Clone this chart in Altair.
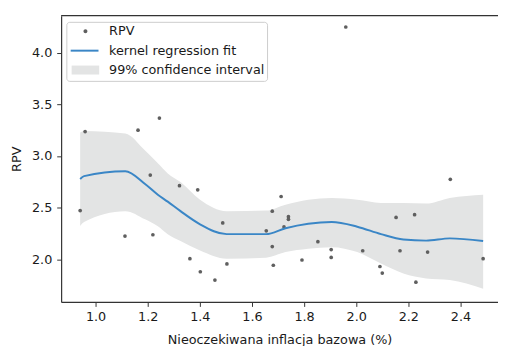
import altair as alt
import pandas as pd

# ---- data ----
rpv_x = [0.941, 0.960, 1.113, 1.163, 1.245, 1.210, 1.220, 1.322, 1.362, 1.392,
         1.402, 1.458, 1.488, 1.504, 1.655, 1.678, 1.678, 1.682, 1.712, 1.723,
         1.740, 1.740, 1.792, 1.853, 1.904, 1.904, 1.960, 2.025, 2.091, 2.100,
         2.153, 2.168, 2.224, 2.229, 2.274, 2.361, 2.487]
rpv_y = [2.472, 3.236, 2.225, 3.249, 3.366, 2.815, 2.238, 2.713, 2.007, 2.672,
         1.880, 1.800, 2.352, 1.956, 2.276, 2.466, 2.124, 1.943, 2.608, 2.314,
         2.413, 2.387, 1.994, 2.171, 2.095, 2.019, 4.247, 2.083, 1.931, 1.867,
         2.406, 2.083, 2.432, 1.779, 2.070, 2.774, 2.007]

fit_x = [0.941, 0.956, 1.114, 1.190, 1.239, 1.277, 1.326, 1.401, 1.503, 1.654,
         1.729, 1.816, 1.906, 2.004, 2.095, 2.181, 2.268, 2.359, 2.487]
fit_y = [2.777, 2.805, 2.853, 2.729, 2.625, 2.558, 2.466, 2.339, 2.244, 2.244,
         2.301, 2.344, 2.361, 2.316, 2.244, 2.192, 2.181, 2.203, 2.178]
ci_high = [3.226, 3.242, 3.217, 3.052, 2.929, 2.831, 2.748, 2.577, 2.466, 2.472,
           2.529, 2.577, 2.593, 2.577, 2.546, 2.544, 2.539, 2.593, 2.625]
ci_low = [2.323, 2.361, 2.466, 2.387, 2.320, 2.244, 2.178, 2.086, 2.007, 2.016,
          2.070, 2.102, 2.118, 2.070, 1.959, 1.864, 1.816, 1.800, 1.715]

x_ticks = [1.0, 1.2, 1.4, 1.6, 1.8, 2.0, 2.2, 2.4]
y_ticks = [2.0, 2.5, 3.0, 3.5, 4.0]
series_names = ["RPV", "kernel regression fit", "99% confidence interval"]
series_colors = ["#5f5f5f", "#3a86c6", "#e3e4e4"]

x_title = "Nieoczekiwana inflacja bazowa (%)"
y_title = "RPV"

# ---- layout / style ----
W, H = 444, 291
FONT = "DejaVu Sans"
TXT = "#1a1a1a"

pts = pd.DataFrame({"x": rpv_x, "y": rpv_y})
fit = pd.DataFrame({"x": fit_x, "y": fit_y, "lo": ci_low, "hi": ci_high})
key_df = pd.DataFrame({"series": series_names})

xs = alt.Scale(domain=[0.868, 2.544], nice=False, zero=False)
ys = alt.Scale(domain=[1.588, 4.357], nice=False, zero=False)

x_axis = alt.Axis(values=x_ticks, format=".1f", grid=False)
y_axis = alt.Axis(values=y_ticks, format=".1f", grid=False)

band = alt.Chart(fit).mark_area(
    color=series_colors[2], opacity=1, interpolate="monotone").encode(
    x=alt.X("x:Q", scale=xs, title=x_title, axis=x_axis),
    y=alt.Y("lo:Q", scale=ys, title=y_title, axis=y_axis),
    y2="hi:Q")

points = alt.Chart(pts).mark_circle(
    size=14, opacity=1, color=series_colors[0]).encode(
    x=alt.X("x:Q", scale=xs), y=alt.Y("y:Q", scale=ys))

line = alt.Chart(fit).mark_line(
    strokeWidth=2, color=series_colors[1], interpolate="monotone").encode(
    x=alt.X("x:Q", scale=xs), y=alt.Y("y:Q", scale=ys))

# legend carrier: draws nothing, only provides the merged legend
# (extra move-to points give every entry the same vertical extent)
leg_shapes = [
    "M1.2,0A0.31,0.31,0,1,1,1.82,0A0.31,0.31,0,1,1,1.2,0ZM1.5,-0.7M1.5,0.7",
    "M-0.8,0L3.55,0M1.4,-0.7M1.4,0.7",
    "M-0.65,-0.7L3.66,-0.7L3.66,0.7L-0.65,0.7Z",
]
leg_fill = [series_colors[0], "transparent", series_colors[2]]
leg_stroke = ["transparent", series_colors[1], "transparent"]

legend = alt.Legend(
    title=None, orient="none", legendX=5.3, legendY=6.3,
    symbolSize=169, symbolStrokeWidth=2, symbolOpacity=1,
    labelOffset=26.3, padding=2.1, rowPadding=0.7,
    fillColor="rgba(255,255,255,0.85)", strokeColor="#cccccc", cornerRadius=3,
    labelFontSize=13, labelFont=FONT, labelColor=TXT,
    labelExpr="datum.label + '\u00a0\u00a0\u00a0\u00a0'",
)

key = alt.Chart(key_df).mark_point(filled=True).encode(
    x=alt.value(0), y=alt.value(0),
    fill=alt.Fill("series:N", scale=alt.Scale(domain=series_names, range=leg_fill),
                  legend=legend, sort=series_names),
    stroke=alt.Stroke("series:N", scale=alt.Scale(domain=series_names, range=leg_stroke),
                      legend=legend, sort=series_names),
    shape=alt.Shape("series:N", scale=alt.Scale(domain=series_names, range=leg_shapes),
                    legend=legend, sort=series_names),
).transform_filter("false")

top_border = alt.Chart(pd.DataFrame({"k": [0]})).mark_rule(
    color="#333333", strokeWidth=1.2).encode(
    x=alt.value(0), x2=alt.value(W), y=alt.value(0))

chart = alt.layer(band, points, line, top_border, key).properties(
    width=W, height=H,
    padding={"left": 54, "top": 5, "right": 0, "bottom": 42},
    autosize=alt.AutoSizeParams(type="none"),
).configure_view(stroke=None).configure_axis(
    domainColor="#333333", domainWidth=1.2,
    tickColor="#333333", tickSize=4.5, tickWidth=1,
    labelFont=FONT, labelFontSize=13, labelColor=TXT,
    titleFont=FONT, titleFontSize=13, titleColor=TXT, titleFontWeight="normal",
).configure_axisX(labelPadding=4, titlePadding=11).configure_axisY(
    labelPadding=5, titlePadding=8)

chart.save("out.html", embed_options={"renderer": "svg", "actions": False})
